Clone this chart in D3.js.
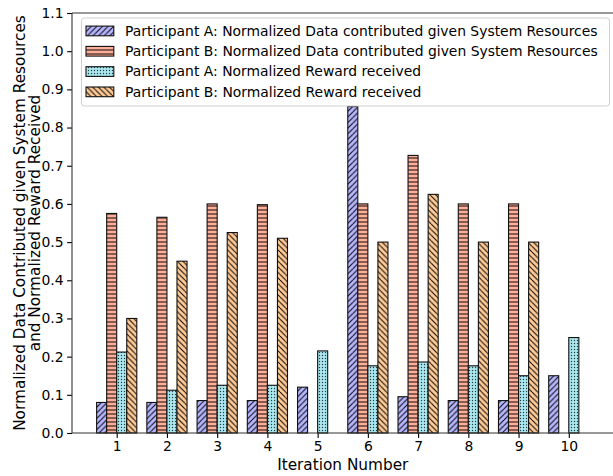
<!DOCTYPE html>
<html>
<head>
<meta charset="utf-8">
<script src="https://cdn.jsdelivr.net/npm/d3@7"></script>
<style>
  html, body { margin: 0; padding: 0; background: #fff; }
  svg { display: block; font-family: "DejaVu Sans", sans-serif; }
</style>
</head>
<body>
<svg id="chart" width="613" height="476"></svg>
<script>
// Iterations on the x axis
const iterations = [1, 2, 3, 4, 5, 6, 7, 8, 9, 10];

// Normalized values per iteration for each series
const aData   = [0.08, 0.08, 0.085, 0.085, 0.12, 0.855, 0.095, 0.085, 0.085, 0.15];
const bData   = [0.575, 0.565, 0.60, 0.598, 0.0, 0.60, 0.727, 0.60, 0.60, 0.0];
const aReward = [0.212, 0.112, 0.125, 0.125, 0.215, 0.176, 0.186, 0.176, 0.15, 0.25];
const bReward = [0.30, 0.45, 0.525, 0.51, 0.0, 0.50, 0.625, 0.50, 0.50, 0.0];

const seriesNames = [
  "Participant A: Normalized Data contributed given System Resources",
  "Participant B: Normalized Data contributed given System Resources",
  "Participant A: Normalized Reward received",
  "Participant B: Normalized Reward received"
];

const yTicks = [0.0, 0.1, 0.2, 0.3, 0.4, 0.5, 0.6, 0.7, 0.8, 0.9, 1.0, 1.1];

const series = [
  { name: seriesNames[0], values: aData,   fill: "#b6b6ff", hatch: "fwd" },
  { name: seriesNames[1], values: bData,   fill: "#ffae98", hatch: "horiz" },
  { name: seriesNames[2], values: aReward, fill: "#a9e8f0", hatch: "dots" },
  { name: seriesNames[3], values: bReward, fill: "#ffca96", hatch: "back" }
];

const svg = d3.select("#chart");
const plotLeft = 72, plotRight = 613.5, plotTop = 13, plotBottom = 433;
const barWidth = 0.2;

const x = d3.scaleLinear().domain([0.11, 10.89]).range([plotLeft, plotRight]);
const y = d3.scaleLinear().domain([0, 1.1]).range([plotBottom, plotTop]);

// Hatch patterns
const defs = svg.append("defs");
function makePattern(id, fill, kind) {
  let s = 5.6;
  if (kind === "horiz") s = 4.0;
  if (kind === "dots") s = 3.0;
  const p = defs.append("pattern")
    .attr("id", id)
    .attr("patternUnits", "userSpaceOnUse")
    .attr("width", s).attr("height", s);
  p.append("rect").attr("width", s).attr("height", s).attr("fill", fill);
  const hw = 0.95;
  if (kind === "fwd") {
    [[0, s, s, 0], [-s, s, 0, 0], [s, s, 2 * s, 0]].forEach(l =>
      p.append("line").attr("x1", l[0]).attr("y1", l[1]).attr("x2", l[2]).attr("y2", l[3])
        .attr("stroke", "#000").attr("stroke-width", hw));
  } else if (kind === "back") {
    [[0, 0, s, s], [-s, 0, 0, s], [s, 0, 2 * s, s]].forEach(l =>
      p.append("line").attr("x1", l[0]).attr("y1", l[1]).attr("x2", l[2]).attr("y2", l[3])
        .attr("stroke", "#000").attr("stroke-width", hw));
  } else if (kind === "horiz") {
    p.append("line").attr("x1", 0).attr("y1", s / 2).attr("x2", s).attr("y2", s / 2)
      .attr("stroke", "#000").attr("stroke-width", hw);
  } else if (kind === "dots") {
    p.append("circle").attr("cx", s / 2).attr("cy", s / 2).attr("r", 0.7)
      .attr("fill", "#000").attr("fill-opacity", 0.75);
  }
}
series.forEach((s, i) => makePattern("hatch" + i, s.fill, s.hatch));

// Bars
const barsG = svg.append("g");
series.forEach((s, si) => {
  const offset = (si - 1.5) * barWidth;
  barsG.selectAll(null)
    .data(iterations.map((it, k) => ({ it, v: s.values[k] })))
    .enter().append("rect")
    .attr("x", d => x(d.it + offset - barWidth / 2))
    .attr("width", d => x(d.it + offset + barWidth / 2) - x(d.it + offset - barWidth / 2))
    .attr("y", d => y(d.v))
    .attr("height", d => y(0) - y(d.v))
    .attr("fill", "url(#hatch" + si + ")")
    .attr("stroke", "#111")
    .attr("stroke-width", 1.1);
});

// Axes
const xAxis = d3.axisBottom(x).tickValues(iterations).tickFormat(d3.format("d")).tickSize(4.9).tickPadding(3.5);
const yAxis = d3.axisLeft(y).tickValues(yTicks).tickFormat(d3.format(".1f")).tickSize(4.9).tickPadding(3.5);

const gx = svg.append("g").attr("transform", `translate(0,${plotBottom})`).call(xAxis);
const gy = svg.append("g").attr("transform", `translate(${plotLeft},0)`).call(yAxis);
[gx, gy].forEach(g => {
  g.select(".domain").remove();
  g.selectAll(".tick line").attr("stroke", "#000").attr("stroke-width", 1.1);
  g.selectAll(".tick text").attr("fill", "#000").style("font-size", "13.9px")
    .style("font-family", "'DejaVu Sans', sans-serif");
});

// Spines (the right one falls on the page edge)
const spine = svg.append("g").attr("fill", "none").attr("stroke", "#333").attr("stroke-width", 1.1);
spine.append("line").attr("x1", plotLeft).attr("x2", plotLeft).attr("y1", plotTop).attr("y2", plotBottom);
spine.append("line").attr("x1", plotLeft).attr("x2", plotRight).attr("y1", plotBottom).attr("y2", plotBottom);
spine.append("line").attr("x1", plotLeft).attr("x2", plotRight).attr("y1", plotTop).attr("y2", plotTop);

// Axis titles
svg.append("text")
  .attr("x", (plotLeft + plotRight) / 2).attr("y", 470)
  .attr("text-anchor", "middle")
  .style("font-size", "15.3px")
  .text("Iteration Number");

const yl = svg.append("text")
  .attr("transform", `translate(0,${(plotTop + plotBottom) / 2}) rotate(-90)`)
  .attr("text-anchor", "middle")
  .style("font-size", "15.3px");
yl.append("tspan").attr("x", 0).attr("y", 24.5).text("Normalized Data Contributed given System Resources");
yl.append("tspan").attr("x", 0).attr("y", 40).text("and Normalized Reward Received");

// Legend
const lg = svg.append("g");
lg.append("rect")
  .attr("x", 81.5).attr("y", 18).attr("width", 528).attr("height", 88)
  .attr("rx", 3).attr("fill", "#fff").attr("fill-opacity", 0.8)
  .attr("stroke", "#d0d0d0").attr("stroke-width", 1);
series.forEach((s, i) => {
  const cy = 31 + i * 20.3;
  lg.append("rect")
    .attr("x", 86).attr("y", cy - 4.9).attr("width", 27.8).attr("height", 9.7)
    .attr("fill", "url(#hatch" + i + ")")
    .attr("stroke", "#111").attr("stroke-width", 1.1);
  lg.append("text")
    .attr("x", 125).attr("y", cy + 4.8)
    .style("font-size", "13.9px")
    .text(s.name);
});
</script>
</body>
</html>
